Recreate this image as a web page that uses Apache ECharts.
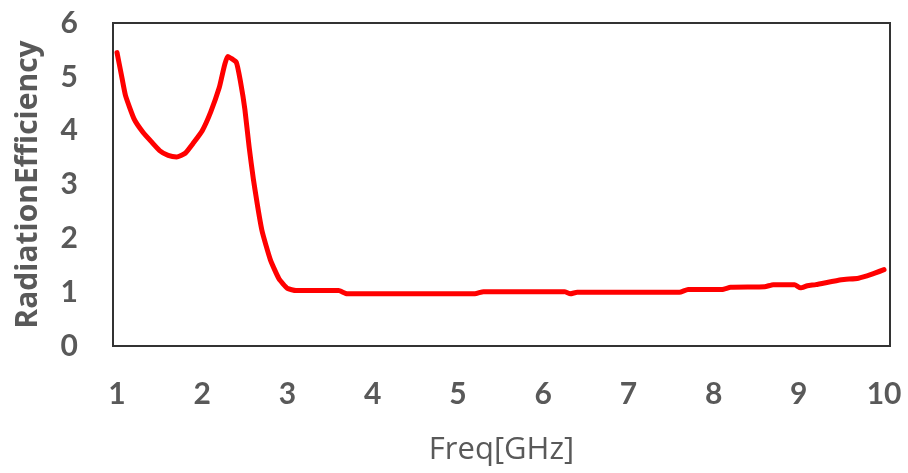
<!DOCTYPE html>
<html>
<head>
<meta charset="utf-8">
<script src="https://cdn.jsdelivr.net/npm/echarts@6/dist/echarts.min.js"></script>
<style>
  html, body { margin: 0; padding: 0; background: #fff; }
  #chart { width: 908px; height: 473px; }
</style>
</head>
<body>
<div id="chart"></div>
<script>
// Frequency sweep (GHz) and radiation efficiency samples
const freq = [1.0, 1.05, 1.1, 1.2, 1.3, 1.4, 1.5, 1.6, 1.7, 1.8, 1.9, 2.0, 2.1, 2.2, 2.3, 2.4,
  2.45, 2.5, 2.55, 2.6, 2.7, 2.8, 2.9, 3.0, 3.1, 3.6, 3.7, 5.2, 5.3, 6.25, 6.32, 6.4, 7.6,
  7.7, 8.1, 8.2, 8.6, 8.7, 8.95, 9.02, 9.1, 9.2, 9.5, 9.7, 9.85, 10.0];
const efficiency = [5.45, 5.05, 4.65, 4.22, 3.98, 3.8, 3.63, 3.54, 3.51, 3.58, 3.78, 4.0, 4.35,
  4.8, 5.38, 5.27, 4.9, 4.4, 3.7, 3.1, 2.15, 1.6, 1.25, 1.07, 1.03, 1.03, 0.97, 0.97, 1.01,
  1.01, 0.97, 1.0, 1.0, 1.05, 1.05, 1.09, 1.1, 1.14, 1.14, 1.08, 1.12, 1.14, 1.23, 1.26,
  1.33, 1.42];
const xTicks = [1, 2, 3, 4, 5, 6, 7, 8, 9, 10];
const yTicks = [0, 1, 2, 3, 4, 5, 6];

const points = freq.map((f, i) => [f, efficiency[i]]);
const textColor = '#595959';
const digitFont = 'Lato, "Open Sans", sans-serif';
const nameFont = '"Open Sans", Lato, sans-serif';

const chart = echarts.init(document.getElementById('chart'), null, { renderer: 'canvas' });
chart.setOption({
  animation: false,
  backgroundColor: '#ffffff',
  grid: {
    left: 113, right: 18, top: 23, bottom: 127,
    show: true, borderColor: '#333333', borderWidth: 2, backgroundColor: 'transparent'
  },
  xAxis: {
    type: 'value',
    min: 0.953,
    max: 10.07,
    axisLine: { show: false },
    axisTick: { show: false },
    splitLine: { show: false },
    axisLabel: {
      customValues: xTicks,
      margin: 33,
      color: textColor,
      fontFamily: digitFont,
      fontWeight: 'bold',
      fontSize: 30
    },
    name: 'Freq[GHz]',
    nameLocation: 'middle',
    nameGap: 89,
    nameTextStyle: { color: textColor, fontFamily: nameFont, fontSize: 31 }
  },
  yAxis: {
    type: 'value',
    min: 0,
    max: 6,
    interval: 1,
    axisLine: { show: false },
    axisTick: { show: false },
    splitLine: { show: false },
    axisLabel: {
      customValues: yTicks,
      margin: 35,
      color: textColor,
      fontFamily: digitFont,
      fontWeight: 'bold',
      fontSize: 30
    },
    name: 'RadiationEfficiency',
    nameLocation: 'middle',
    nameGap: 70,
    nameTextStyle: { color: textColor, fontFamily: nameFont, fontWeight: 'bold', fontSize: 30 }
  },
  series: [{
    type: 'line',
    data: points,
    showSymbol: false,
    smooth: 0.15,
    lineStyle: { color: '#ff0000', width: 5, join: 'round', cap: 'round' }
  }]
});
</script>
</body>
</html>
